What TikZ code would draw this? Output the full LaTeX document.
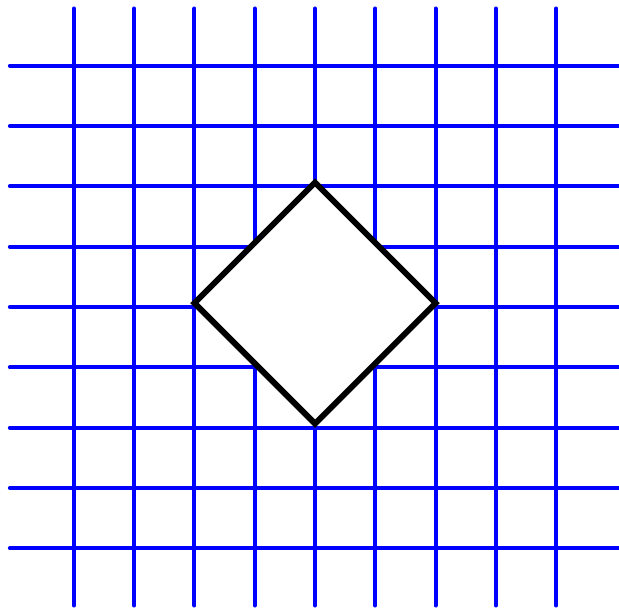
\documentclass[tikz,border=0pt]{standalone}
\usepackage{xcolor}
\usepackage{tikz}
\definecolor{gridBlue}{RGB}{0,0,255}
\definecolor{rhombDark}{RGB}{0,0,0}

\begin{document}
\begin{tikzpicture}[
  gridline/.style={draw=gridBlue,line width=1.9pt,line cap=round},
  rhomb/.style={draw=rhombDark,fill=white,line width=2.8pt,miter limit=10}
]
\useasboundingbox (-5.224,-5.041) rectangle (5.041,5.091);
% Grid
\foreach \i in {-4,...,4} {
  \draw[gridline] (\i,-4.95) -- (\i,4.95);
  \draw[gridline] (-5.06,\i) -- (5.1,\i);
}
% Rhombus corners
\coordinate (T) at (0,2.065);
\coordinate (R) at (2,0.065);
\coordinate (B) at (0,-1.935);
\coordinate (L) at (-2,0.065);
% Rhombus
\draw[rhomb] (T) -- (R) -- (B) -- (L) -- cycle;
\end{tikzpicture}
\end{document}
